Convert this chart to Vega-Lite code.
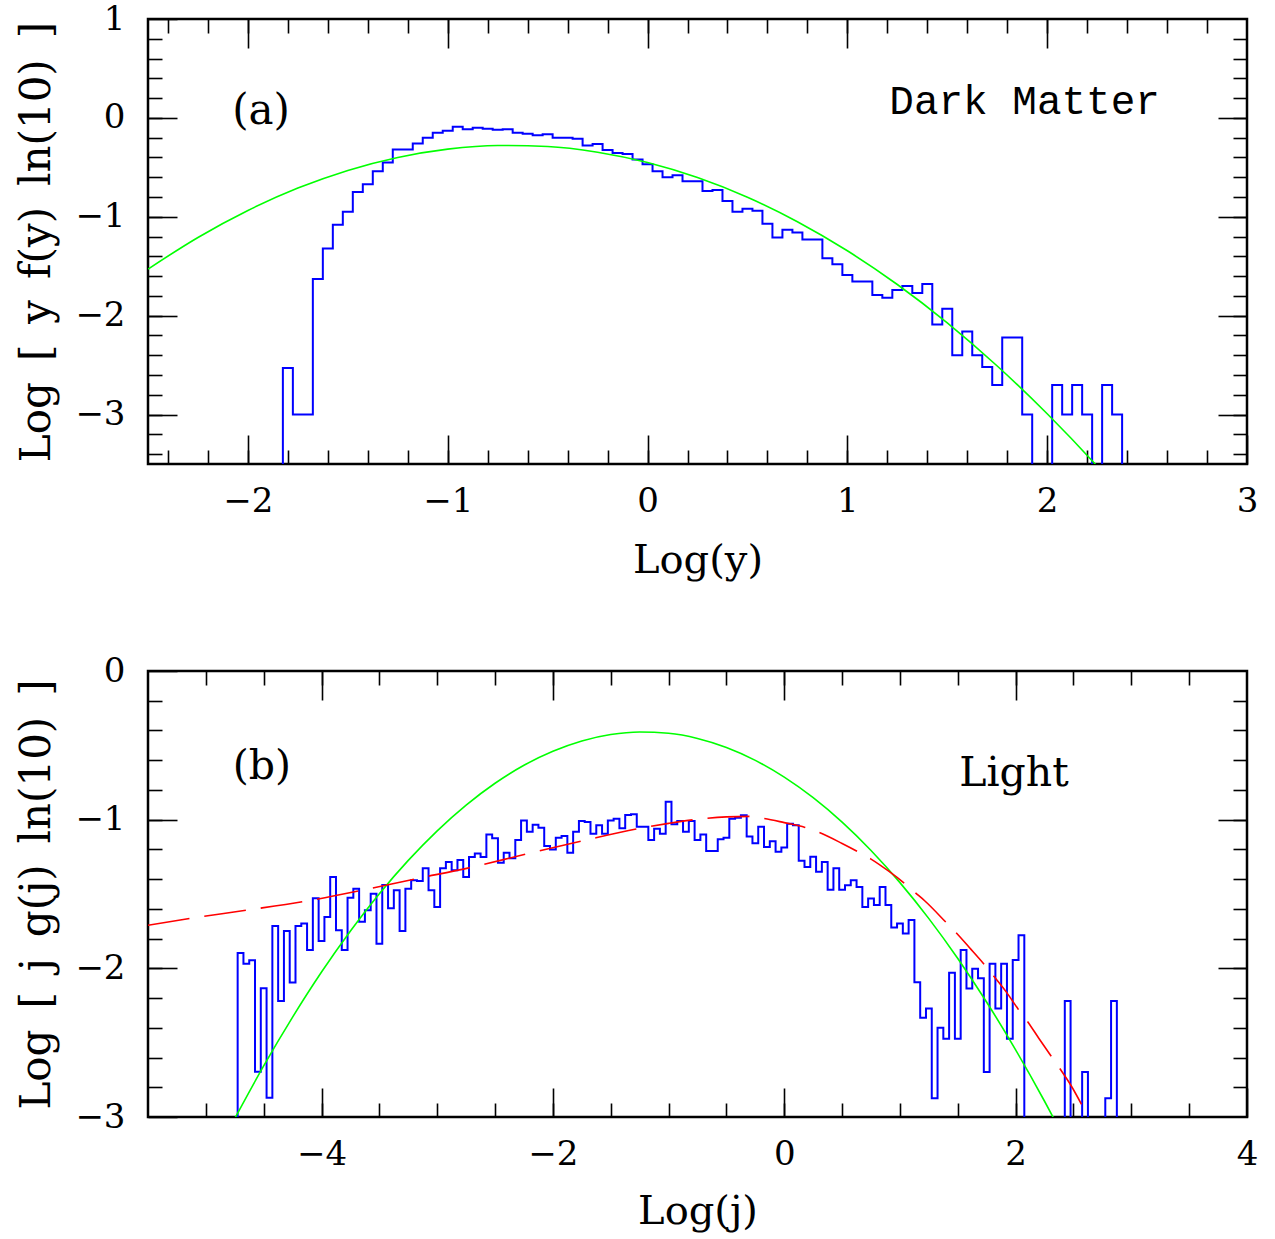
{
  "$schema": "https://vega.github.io/schema/vega-lite/v6.json",
  "background": "white",
  "padding": {"left": 14, "top": 0, "right": 8, "bottom": 0},
  "spacing": 70,
  "config": {
    "view": {"stroke": "black", "strokeWidth": 2.5},
    "axis": {
      "domain": false, "grid": false, "tickColor": "black", "tickWidth": 1.6,
      "labelFont": "DejaVu Serif", "labelFontSize": 34, "labelColor": "black",
      "titleFont": "DejaVu Serif", "titleFontSize": 40, "titleFontWeight": "normal", "titleColor": "black",
      "labelOverlap": false, "labelFlush": false
    }
  },
  "datasets": {
    "hist_a": [
      {"x": -1.85, "v": -6}, {"x": -1.80, "v": -2.53}, {"x": -1.75, "v": -3.0}, {"x": -1.70, "v": -3.0},
      {"x": -1.65, "v": -1.63}, {"x": -1.60, "v": -1.32}, {"x": -1.55, "v": -1.08}, {"x": -1.50, "v": -0.95},
      {"x": -1.45, "v": -0.75}, {"x": -1.40, "v": -0.67}, {"x": -1.35, "v": -0.54}, {"x": -1.30, "v": -0.45},
      {"x": -1.25, "v": -0.32}, {"x": -1.20, "v": -0.32}, {"x": -1.15, "v": -0.26}, {"x": -1.10, "v": -0.20},
      {"x": -1.05, "v": -0.15}, {"x": -1.00, "v": -0.13}, {"x": -0.95, "v": -0.09}, {"x": -0.90, "v": -0.115},
      {"x": -0.85, "v": -0.10}, {"x": -0.80, "v": -0.11}, {"x": -0.75, "v": -0.12}, {"x": -0.70, "v": -0.115},
      {"x": -0.65, "v": -0.15}, {"x": -0.60, "v": -0.16}, {"x": -0.55, "v": -0.175}, {"x": -0.50, "v": -0.165},
      {"x": -0.45, "v": -0.20}, {"x": -0.40, "v": -0.20}, {"x": -0.35, "v": -0.21}, {"x": -0.30, "v": -0.28},
      {"x": -0.25, "v": -0.265}, {"x": -0.20, "v": -0.325}, {"x": -0.15, "v": -0.355}, {"x": -0.10, "v": -0.365},
      {"x": -0.05, "v": -0.42}, {"x": 0.00, "v": -0.47}, {"x": 0.05, "v": -0.54}, {"x": 0.10, "v": -0.60},
      {"x": 0.15, "v": -0.58}, {"x": 0.20, "v": -0.64}, {"x": 0.25, "v": -0.64}, {"x": 0.30, "v": -0.74},
      {"x": 0.35, "v": -0.73}, {"x": 0.40, "v": -0.84}, {"x": 0.45, "v": -0.95}, {"x": 0.50, "v": -0.92},
      {"x": 0.55, "v": -0.94}, {"x": 0.60, "v": -1.07}, {"x": 0.65, "v": -1.21}, {"x": 0.70, "v": -1.13},
      {"x": 0.75, "v": -1.16}, {"x": 0.80, "v": -1.23}, {"x": 0.85, "v": -1.23}, {"x": 0.90, "v": -1.42},
      {"x": 0.95, "v": -1.48}, {"x": 1.00, "v": -1.59}, {"x": 1.05, "v": -1.655}, {"x": 1.10, "v": -1.655},
      {"x": 1.15, "v": -1.79}, {"x": 1.20, "v": -1.82}, {"x": 1.25, "v": -1.74}, {"x": 1.30, "v": -1.70},
      {"x": 1.35, "v": -1.77}, {"x": 1.40, "v": -1.68}, {"x": 1.45, "v": -2.09}, {"x": 1.50, "v": -1.93},
      {"x": 1.55, "v": -2.40}, {"x": 1.60, "v": -2.16}, {"x": 1.65, "v": -2.40}, {"x": 1.70, "v": -2.52},
      {"x": 1.75, "v": -2.70}, {"x": 1.80, "v": -2.22}, {"x": 1.85, "v": -2.22}, {"x": 1.90, "v": -3.0},
      {"x": 1.95, "v": -6}, {"x": 2.00, "v": -6}, {"x": 2.05, "v": -2.70}, {"x": 2.10, "v": -3.0},
      {"x": 2.15, "v": -2.70}, {"x": 2.20, "v": -3.0}, {"x": 2.25, "v": -6}, {"x": 2.30, "v": -2.70},
      {"x": 2.35, "v": -3.0}, {"x": 2.40, "v": -6}
    ],
    "green_a": [
      {"x": -2.5, "v": -1.529}, {"x": -2.25, "v": -1.209}, {"x": -2.0, "v": -0.936}, {"x": -1.75, "v": -0.710},
      {"x": -1.5, "v": -0.531}, {"x": -1.25, "v": -0.400}, {"x": -1.0, "v": -0.316}, {"x": -0.75, "v": -0.279},
      {"x": -0.5, "v": -0.289}, {"x": -0.25, "v": -0.347}, {"x": 0.0, "v": -0.452}, {"x": 0.25, "v": -0.604},
      {"x": 0.5, "v": -0.803}, {"x": 0.75, "v": -1.050}, {"x": 1.0, "v": -1.344}, {"x": 1.25, "v": -1.685},
      {"x": 1.5, "v": -2.073}, {"x": 1.75, "v": -2.509}, {"x": 2.0, "v": -2.992}, {"x": 2.25, "v": -3.522},
      {"x": 2.3, "v": -3.634}
    ],
    "hist_b": [
      {"x": -4.75, "v": -6}, {"x": -4.70, "v": -1.897}, {"x": -4.65, "v": -1.969}, {"x": -4.60, "v": -1.946},
      {"x": -4.55, "v": -2.695}, {"x": -4.50, "v": -2.134}, {"x": -4.45, "v": -2.87}, {"x": -4.40, "v": -1.715},
      {"x": -4.35, "v": -2.22}, {"x": -4.30, "v": -1.749}, {"x": -4.25, "v": -2.096}, {"x": -4.20, "v": -1.715},
      {"x": -4.15, "v": -1.699}, {"x": -4.10, "v": -1.877}, {"x": -4.05, "v": -1.529}, {"x": -4.00, "v": -1.816},
      {"x": -3.95, "v": -1.655}, {"x": -3.90, "v": -1.386}, {"x": -3.85, "v": -1.744}, {"x": -3.80, "v": -1.877},
      {"x": -3.75, "v": -1.525}, {"x": -3.70, "v": -1.464}, {"x": -3.65, "v": -1.686}, {"x": -3.60, "v": -1.61},
      {"x": -3.55, "v": -1.498}, {"x": -3.50, "v": -1.834}, {"x": -3.45, "v": -1.439}, {"x": -3.40, "v": -1.596},
      {"x": -3.35, "v": -1.475}, {"x": -3.30, "v": -1.749}, {"x": -3.25, "v": -1.464}, {"x": -3.20, "v": -1.408},
      {"x": -3.15, "v": -1.413}, {"x": -3.10, "v": -1.327}, {"x": -3.05, "v": -1.475}, {"x": -3.00, "v": -1.587},
      {"x": -2.95, "v": -1.327}, {"x": -2.90, "v": -1.285}, {"x": -2.85, "v": -1.341}, {"x": -2.80, "v": -1.271},
      {"x": -2.75, "v": -1.386}, {"x": -2.70, "v": -1.251}, {"x": -2.65, "v": -1.227}, {"x": -2.60, "v": -1.251},
      {"x": -2.55, "v": -1.099}, {"x": -2.50, "v": -1.125}, {"x": -2.45, "v": -1.289}, {"x": -2.40, "v": -1.222},
      {"x": -2.35, "v": -1.26}, {"x": -2.30, "v": -1.137}, {"x": -2.25, "v": -1.005}, {"x": -2.20, "v": -1.081},
      {"x": -2.15, "v": -1.034}, {"x": -2.10, "v": -1.054}, {"x": -2.05, "v": -1.177}, {"x": -2.00, "v": -1.2},
      {"x": -1.95, "v": -1.121}, {"x": -1.90, "v": -1.11}, {"x": -1.85, "v": -1.222}, {"x": -1.80, "v": -1.081},
      {"x": -1.75, "v": -1.009}, {"x": -1.70, "v": -1.016}, {"x": -1.65, "v": -1.094}, {"x": -1.60, "v": -1.038},
      {"x": -1.55, "v": -1.094}, {"x": -1.50, "v": -1.005}, {"x": -1.45, "v": -0.993}, {"x": -1.40, "v": -1.058},
      {"x": -1.35, "v": -0.969}, {"x": -1.30, "v": -0.964}, {"x": -1.25, "v": -1.047}, {"x": -1.20, "v": -1.047},
      {"x": -1.15, "v": -1.137}, {"x": -1.10, "v": -1.061}, {"x": -1.05, "v": -1.094}, {"x": -1.00, "v": -0.879},
      {"x": -0.95, "v": -1.031}, {"x": -0.90, "v": -1.009}, {"x": -0.85, "v": -1.081}, {"x": -0.80, "v": -1.009},
      {"x": -0.75, "v": -1.137}, {"x": -0.70, "v": -1.099}, {"x": -0.65, "v": -1.211}, {"x": -0.60, "v": -1.211},
      {"x": -0.55, "v": -1.132}, {"x": -0.50, "v": -1.121}, {"x": -0.45, "v": -0.993}, {"x": -0.40, "v": -0.987},
      {"x": -0.35, "v": -0.971}, {"x": -0.30, "v": -1.114}, {"x": -0.25, "v": -1.159}, {"x": -0.20, "v": -1.047},
      {"x": -0.15, "v": -1.184}, {"x": -0.10, "v": -1.146}, {"x": -0.05, "v": -1.215}, {"x": 0.00, "v": -1.188},
      {"x": 0.05, "v": -1.027}, {"x": 0.10, "v": -1.038}, {"x": 0.15, "v": -1.276}, {"x": 0.20, "v": -1.318},
      {"x": 0.25, "v": -1.249}, {"x": 0.30, "v": -1.35}, {"x": 0.35, "v": -1.285}, {"x": 0.40, "v": -1.471},
      {"x": 0.45, "v": -1.327}, {"x": 0.50, "v": -1.471}, {"x": 0.55, "v": -1.441}, {"x": 0.60, "v": -1.408},
      {"x": 0.65, "v": -1.453}, {"x": 0.70, "v": -1.587}, {"x": 0.75, "v": -1.531}, {"x": 0.80, "v": -1.574},
      {"x": 0.85, "v": -1.453}, {"x": 0.90, "v": -1.574}, {"x": 0.95, "v": -1.726}, {"x": 1.00, "v": -1.699},
      {"x": 1.05, "v": -1.765}, {"x": 1.10, "v": -1.675}, {"x": 1.15, "v": -2.094}, {"x": 1.20, "v": -2.332},
      {"x": 1.25, "v": -2.271}, {"x": 1.30, "v": -2.874}, {"x": 1.35, "v": -2.399}, {"x": 1.40, "v": -2.473},
      {"x": 1.45, "v": -2.029}, {"x": 1.50, "v": -2.473}, {"x": 1.55, "v": -1.877}, {"x": 1.60, "v": -2.135},
      {"x": 1.65, "v": -2.002}, {"x": 1.70, "v": -2.067}, {"x": 1.75, "v": -2.697}, {"x": 1.80, "v": -1.969},
      {"x": 1.85, "v": -2.271}, {"x": 1.90, "v": -1.969}, {"x": 1.95, "v": -2.473}, {"x": 2.00, "v": -1.944},
      {"x": 2.05, "v": -1.778}, {"x": 2.10, "v": -6}, {"x": 2.15, "v": -6}, {"x": 2.20, "v": -6},
      {"x": 2.25, "v": -6}, {"x": 2.30, "v": -6}, {"x": 2.35, "v": -6}, {"x": 2.40, "v": -6},
      {"x": 2.45, "v": -2.22}, {"x": 2.50, "v": -6}, {"x": 2.55, "v": -6}, {"x": 2.60, "v": -2.697},
      {"x": 2.65, "v": -6}, {"x": 2.70, "v": -6}, {"x": 2.75, "v": -6}, {"x": 2.80, "v": -2.874},
      {"x": 2.85, "v": -2.22}, {"x": 2.90, "v": -6}
    ],
    "green_b": [
      {"x": -4.75, "v": -3.010}, {"x": -4.5, "v": -2.656}, {"x": -4.25, "v": -2.328}, {"x": -4.0, "v": -2.025},
      {"x": -3.75, "v": -1.749}, {"x": -3.5, "v": -1.498}, {"x": -3.25, "v": -1.274}, {"x": -3.0, "v": -1.075},
      {"x": -2.75, "v": -0.902}, {"x": -2.5, "v": -0.755}, {"x": -2.25, "v": -0.634}, {"x": -2.0, "v": -0.540},
      {"x": -1.75, "v": -0.4705}, {"x": -1.5, "v": -0.4275}, {"x": -1.25, "v": -0.4103}, {"x": -1.0, "v": -0.4192},
      {"x": -0.75, "v": -0.4539}, {"x": -0.5, "v": -0.5146}, {"x": -0.25, "v": -0.6012}, {"x": 0.0, "v": -0.7138},
      {"x": 0.25, "v": -0.8523}, {"x": 0.5, "v": -1.0168}, {"x": 0.75, "v": -1.2071}, {"x": 1.0, "v": -1.4234},
      {"x": 1.25, "v": -1.6657}, {"x": 1.5, "v": -1.9339}, {"x": 1.75, "v": -2.2280}, {"x": 2.0, "v": -2.5481},
      {"x": 2.25, "v": -2.8941}, {"x": 2.35, "v": -3.0398}
    ],
    "red_b": [
      {"x": -5.5, "v": -1.71}, {"x": -5.13, "v": -1.663}, {"x": -4.65, "v": -1.609}, {"x": -4.155, "v": -1.551},
      {"x": -3.675, "v": -1.479}, {"x": -3.2, "v": -1.40}, {"x": -2.71, "v": -1.321}, {"x": -2.23, "v": -1.231},
      {"x": -1.74, "v": -1.142}, {"x": -1.28, "v": -1.063}, {"x": -1.0, "v": -1.025}, {"x": -0.78, "v": -1.0},
      {"x": -0.5, "v": -0.981}, {"x": -0.3, "v": -0.978}, {"x": -0.18, "v": -0.991}, {"x": 0.0, "v": -1.02},
      {"x": 0.18, "v": -1.052}, {"x": 0.3, "v": -1.085}, {"x": 0.5, "v": -1.16}, {"x": 0.63, "v": -1.213},
      {"x": 0.75, "v": -1.265}, {"x": 0.9, "v": -1.345}, {"x": 1.04, "v": -1.429}, {"x": 1.13, "v": -1.49},
      {"x": 1.216, "v": -1.547}, {"x": 1.4, "v": -1.692}, {"x": 1.485, "v": -1.76}, {"x": 1.6, "v": -1.86},
      {"x": 1.73, "v": -1.975}, {"x": 1.81, "v": -2.052}, {"x": 1.92, "v": -2.16}, {"x": 2.03, "v": -2.283},
      {"x": 2.104, "v": -2.359}, {"x": 2.2, "v": -2.47}, {"x": 2.31, "v": -2.594}, {"x": 2.38, "v": -2.672},
      {"x": 2.48, "v": -2.79}, {"x": 2.576, "v": -2.925}
    ]
  },
  "vconcat": [
    {
      "width": 1099,
      "height": 445,
      "resolve": {"axis": {"x": "independent", "y": "independent"}},
      "layer": [
        {
          "data": {"name": "hist_a"},
          "mark": {"type": "line", "interpolate": "step", "color": "#0000ff", "strokeWidth": 2, "clip": true},
          "encoding": {
            "x": {"field": "x", "type": "quantitative", "scale": {"domain": [-2.5, 3], "nice": false, "zero": false},
              "axis": {"orient": "bottom", "values": [-2, -1, 0, 1, 2, 3], "format": "d", "tickSize": -29, "labelPadding": 49, "title": "Log(y)", "titlePadding": 22}},
            "y": {"field": "v", "type": "quantitative", "scale": {"domain": [-3.5, 1], "nice": false, "zero": false},
              "axis": {"orient": "left", "values": [-3, -2, -1, 0, 1], "format": "d", "tickSize": -29, "labelPadding": 52, "title": "Log\u2002[\u2002y\u2002f(y)\u2002ln(10)\u2002]", "titleFontSize": 42, "titlePadding": 16}}
          }
        },
        {
          "data": {"name": "green_a"},
          "mark": {"type": "line", "color": "#00ff00", "strokeWidth": 1.6, "clip": true, "interpolate": "monotone"},
          "encoding": {
            "x": {"field": "x", "type": "quantitative", "scale": {"domain": [-2.5, 3], "nice": false, "zero": false},
              "axis": {"orient": "bottom", "values": [-2.4, -2.2, -2, -1.8, -1.6, -1.4, -1.2, -1, -0.8, -0.6, -0.4, -0.2, 0, 0.2, 0.4, 0.6, 0.8, 1, 1.2, 1.4, 1.6, 1.8, 2, 2.2, 2.4, 2.6, 2.8], "tickSize": -14, "labels": false, "title": null}},
            "y": {"field": "v", "type": "quantitative", "scale": {"domain": [-3.5, 1], "nice": false, "zero": false},
              "axis": {"orient": "left", "values": [-3.4, -3.2, -3, -2.8, -2.6, -2.4, -2.2, -2, -1.8, -1.6, -1.4, -1.2, -1, -0.8, -0.6, -0.4, -0.2, 0, 0.2, 0.4, 0.6, 0.8], "tickSize": -14, "labels": false, "title": null}}
          }
        },
        {
          "data": {"values": [{"t": "(a)", "x": -1.934, "y": -0.06}]},
          "mark": {"type": "text", "font": "DejaVu Serif", "fontSize": 42, "align": "center", "baseline": "alphabetic", "color": "black"},
          "encoding": {
            "text": {"field": "t"},
            "x": {"field": "x", "type": "quantitative", "scale": {"domain": [-2.5, 3], "nice": false, "zero": false},
              "axis": {"orient": "top", "values": [-2, -1, 0, 1, 2], "tickSize": -29, "labels": false, "title": null}},
            "y": {"field": "y", "type": "quantitative", "scale": {"domain": [-3.5, 1], "nice": false, "zero": false},
              "axis": {"orient": "right", "values": [-3, -2, -1, 0], "tickSize": -29, "labels": false, "title": null}}
          }
        },
        {
          "data": {"values": [{"t": "Dark Matter", "x": 1.887, "y": 0.04}]},
          "mark": {"type": "text", "font": "Liberation Mono", "fontSize": 41, "align": "center", "baseline": "alphabetic", "color": "black"},
          "encoding": {
            "text": {"field": "t"},
            "x": {"field": "x", "type": "quantitative", "scale": {"domain": [-2.5, 3], "nice": false, "zero": false},
              "axis": {"orient": "top", "values": [-2.4, -2.2, -2, -1.8, -1.6, -1.4, -1.2, -1, -0.8, -0.6, -0.4, -0.2, 0, 0.2, 0.4, 0.6, 0.8, 1, 1.2, 1.4, 1.6, 1.8, 2, 2.2, 2.4, 2.6, 2.8], "tickSize": -14, "labels": false, "title": null}},
            "y": {"field": "y", "type": "quantitative", "scale": {"domain": [-3.5, 1], "nice": false, "zero": false},
              "axis": {"orient": "right", "values": [-3.4, -3.2, -3, -2.8, -2.6, -2.4, -2.2, -2, -1.8, -1.6, -1.4, -1.2, -1, -0.8, -0.6, -0.4, -0.2, 0, 0.2, 0.4, 0.6, 0.8], "tickSize": -14, "labels": false, "title": null}}
          }
        }
      ]
    },
    {
      "width": 1099,
      "height": 446,
      "resolve": {"axis": {"x": "independent", "y": "independent"}},
      "layer": [
        {
          "data": {"name": "hist_b"},
          "mark": {"type": "line", "interpolate": "step", "color": "#0000ff", "strokeWidth": 2, "clip": true},
          "encoding": {
            "x": {"field": "x", "type": "quantitative", "scale": {"domain": [-5.5, 4], "nice": false, "zero": false},
              "axis": {"orient": "bottom", "values": [-4, -2, 0, 2, 4], "format": "d", "tickSize": -29, "labelPadding": 49, "title": "Log(j)", "titlePadding": 20}},
            "y": {"field": "v", "type": "quantitative", "scale": {"domain": [-3, 0], "nice": false, "zero": false},
              "axis": {"orient": "left", "values": [-3, -2, -1, 0], "format": "d", "tickSize": -29, "labelPadding": 52, "title": "Log\u2002[\u2002j\u2002g(j)\u2002ln(10)\u2002]", "titleFontSize": 42, "titlePadding": 16}}
          }
        },
        {
          "data": {"name": "green_b"},
          "mark": {"type": "line", "color": "#00ff00", "strokeWidth": 1.6, "clip": true, "interpolate": "monotone"},
          "encoding": {
            "x": {"field": "x", "type": "quantitative", "scale": {"domain": [-5.5, 4], "nice": false, "zero": false},
              "axis": {"orient": "bottom", "values": [-5, -4.5, -4, -3.5, -3, -2.5, -2, -1.5, -1, -0.5, 0, 0.5, 1, 1.5, 2, 2.5, 3, 3.5], "tickSize": -14, "labels": false, "title": null}},
            "y": {"field": "v", "type": "quantitative", "scale": {"domain": [-3, 0], "nice": false, "zero": false},
              "axis": {"orient": "left", "values": [-2.8, -2.6, -2.4, -2.2, -2, -1.8, -1.6, -1.4, -1.2, -1, -0.8, -0.6, -0.4, -0.2], "tickSize": -14, "labels": false, "title": null}}
          }
        },
        {
          "data": {"name": "red_b"},
          "mark": {"type": "line", "color": "#ff0000", "strokeWidth": 1.6, "strokeDash": [42, 15], "clip": true, "interpolate": "monotone"},
          "encoding": {
            "x": {"field": "x", "type": "quantitative", "scale": {"domain": [-5.5, 4], "nice": false, "zero": false},
              "axis": {"orient": "top", "values": [-4, -2, 0, 2], "tickSize": -29, "labels": false, "title": null}},
            "y": {"field": "v", "type": "quantitative", "scale": {"domain": [-3, 0], "nice": false, "zero": false},
              "axis": {"orient": "right", "values": [-2, -1], "tickSize": -29, "labels": false, "title": null}}
          }
        },
        {
          "data": {"values": [{"t": "(b)", "x": -4.515, "y": -0.726}, {"t": "Light", "x": 1.986, "y": -0.774}]},
          "mark": {"type": "text", "font": "DejaVu Serif", "fontSize": 41, "align": "center", "baseline": "alphabetic", "color": "black"},
          "encoding": {
            "text": {"field": "t"},
            "x": {"field": "x", "type": "quantitative", "scale": {"domain": [-5.5, 4], "nice": false, "zero": false},
              "axis": {"orient": "top", "values": [-5, -4.5, -4, -3.5, -3, -2.5, -2, -1.5, -1, -0.5, 0, 0.5, 1, 1.5, 2, 2.5, 3, 3.5], "tickSize": -14, "labels": false, "title": null}},
            "y": {"field": "y", "type": "quantitative", "scale": {"domain": [-3, 0], "nice": false, "zero": false},
              "axis": {"orient": "right", "values": [-2.8, -2.6, -2.4, -2.2, -2, -1.8, -1.6, -1.4, -1.2, -1, -0.8, -0.6, -0.4, -0.2], "tickSize": -14, "labels": false, "title": null}}
          }
        }
      ]
    }
  ]
}
